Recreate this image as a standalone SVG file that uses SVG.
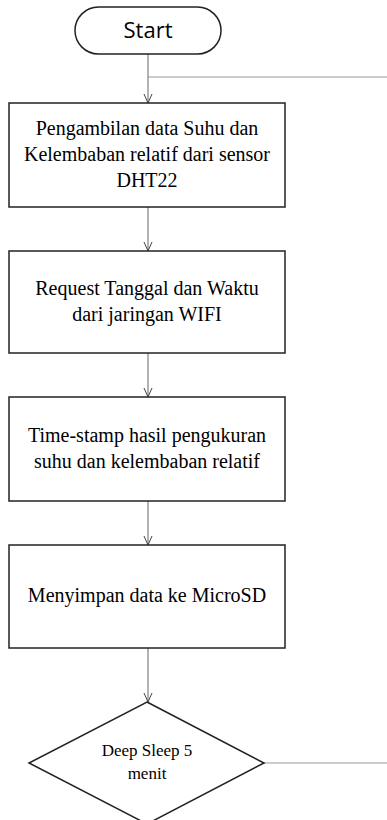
<svg xmlns="http://www.w3.org/2000/svg" width="387" height="820" viewBox="0 0 387 820">
<style>
.box{fill:#fff;stroke:#222;stroke-width:1.5}
.t{font-family:'Liberation Serif',serif;font-size:20px;fill:#000;text-anchor:middle}
.c{fill:none;stroke:#666;stroke-width:1}
.g{fill:none;stroke:#999;stroke-width:1.2}
</style>
<defs>
<marker id="ah" markerWidth="12" markerHeight="12" refX="10" refY="5" orient="auto" markerUnits="userSpaceOnUse">
<path d="M1,1 L10,5 L1,9" fill="none" stroke="#444" stroke-width="1"/>
</marker>
</defs>
<rect width="387" height="820" fill="#fff"/>
<g id="connectors">
<line class="c" x1="148" y1="54" x2="148" y2="103" marker-end="url(#ah)"/>
<line class="g" x1="148" y1="77" x2="387" y2="77"/>
<line class="c" x1="148" y1="207" x2="148" y2="251" marker-end="url(#ah)"/>
<line class="c" x1="148" y1="353" x2="148" y2="397" marker-end="url(#ah)"/>
<line class="c" x1="148" y1="501" x2="148" y2="545" marker-end="url(#ah)"/>
<line class="c" x1="148" y1="648" x2="148" y2="702" marker-end="url(#ah)"/>
<line class="g" x1="264" y1="763" x2="387" y2="763"/>
</g>
<g id="start">
<rect x="75" y="7" width="146" height="47" rx="23.5" fill="#fff" stroke="#222" stroke-width="1.5"/>
<text x="148" y="38" text-anchor="middle" font-family="'Open Sans','Liberation Sans',sans-serif" font-size="22" fill="#000">Start</text>
</g>
<g id="n1">
<rect class="box" x="9" y="103" width="276" height="104"/>
<text class="t" x="147" y="135">Pengambilan data Suhu dan</text>
<text class="t" x="147" y="161">Kelembaban relatif dari sensor</text>
<text class="t" x="147" y="187">DHT22</text>
</g>
<g id="n2">
<rect class="box" x="9" y="251" width="276" height="102"/>
<text class="t" x="147" y="295">Request Tanggal dan Waktu</text>
<text class="t" x="147" y="321">dari jaringan WIFI</text>
</g>
<g id="n3">
<rect class="box" x="9" y="397" width="276" height="104"/>
<text class="t" x="147" y="442">Time-stamp hasil pengukuran</text>
<text class="t" x="147" y="468">suhu dan kelembaban relatif</text>
</g>
<g id="n4">
<rect class="box" x="9" y="545" width="276" height="103"/>
<text class="t" x="147" y="602">Menyimpan data ke MicroSD</text>
</g>
<g id="decision">
<polygon points="147,702 264,763 147,824 29,763" fill="#fff" stroke="#222" stroke-width="1.5"/>
<text class="t" x="147" y="756" style="font-size:17px">Deep Sleep 5</text>
<text class="t" x="147" y="779" style="font-size:17px">menit</text>
</g>
</svg>
